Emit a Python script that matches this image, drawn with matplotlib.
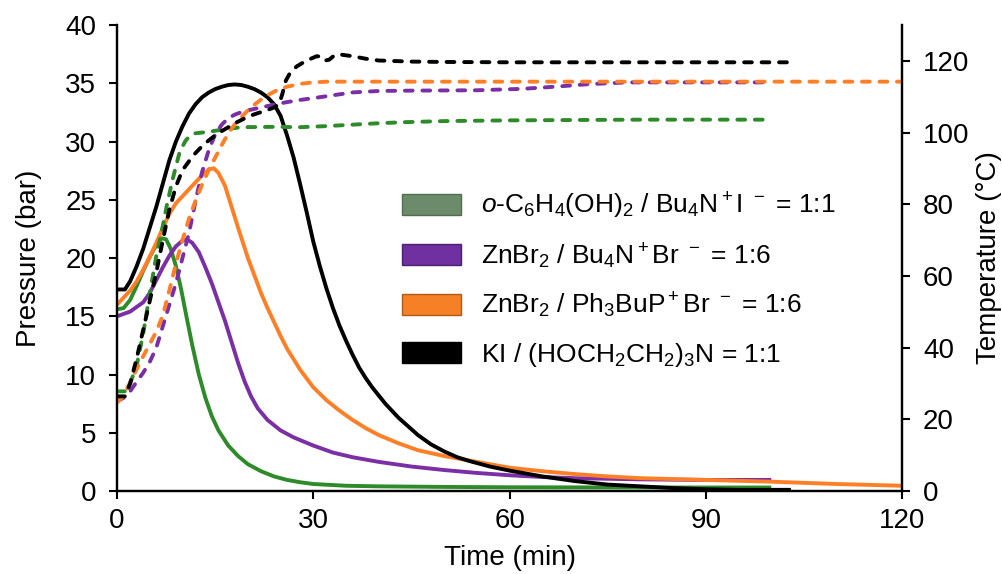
import matplotlib
matplotlib.use("Agg")
import matplotlib.pyplot as plt
from matplotlib.patches import Patch

plt.rcParams['font.family'] = ['Liberation Sans', 'DejaVu Sans']
plt.rcParams['mathtext.fontset'] = 'custom'
plt.rcParams['mathtext.rm'] = 'Liberation Sans'
plt.rcParams['mathtext.it'] = 'Liberation Sans:italic'
plt.rcParams['mathtext.bf'] = 'Liberation Sans:bold'

# ---------------- data ----------------
# Pressure (bar), solid lines
t_p_green = [0, 1, 2, 3, 4, 5, 6, 6.8, 7.5, 8.2, 9, 9.8, 10.6, 11.5, 12.5, 13.5, 14.5, 15.5, 17, 18.5,
             20, 22, 24, 26, 28, 30, 35, 40, 50, 60, 80, 100]
p_green = [15.6, 15.7, 16.4, 17.6, 18.9, 20.1, 21.1, 21.7, 21.6, 20.8, 19.3, 17.3, 15.0, 12.5, 10.0, 8.0,
           6.4, 5.2, 3.9, 3.0, 2.3, 1.7, 1.25, 0.95, 0.75, 0.6, 0.45, 0.4, 0.35, 0.32, 0.3, 0.3]

t_p_purple = [0, 1, 2, 3, 4, 5, 6, 7, 8, 9, 10, 10.7, 11.5, 12.5, 13.5, 14.5, 15.5, 16.5, 17.5, 18.5,
              19.5, 20.5, 21.5, 23, 25, 27, 30, 33, 36, 40, 45, 50, 55, 60, 65, 70, 80, 90, 100]
p_purple = [15.0, 15.2, 15.4, 15.8, 16.2, 17.0, 18.1, 19.2, 20.2, 21.0, 21.5, 21.6, 21.3, 20.5, 19.2,
            17.8, 16.2, 14.6, 12.8, 11.0, 9.4, 8.1, 7.1, 6.1, 5.2, 4.6, 3.9, 3.3, 2.9, 2.5, 2.1, 1.8,
            1.55, 1.35, 1.2, 1.1, 1.0, 0.95, 0.95]

t_p_orange = [0, 1, 2, 3, 4, 5, 6, 7, 8, 9, 10, 11, 12, 13, 14, 14.8, 15.5, 16.5, 17.5, 18.5, 20, 21,
              22, 23, 24, 25, 26, 28, 30, 32, 34, 36, 38, 40, 43, 46, 50, 55, 60, 65, 70, 75, 80, 90,
              100, 110, 120]
p_orange = [16.0, 16.6, 17.2, 18.0, 19.0, 20.1, 21.3, 22.6, 23.8, 24.7, 25.3, 25.9, 26.5, 27.1, 27.6,
            27.7, 27.3, 26.2, 24.4, 22.6, 20.0, 18.5, 17.0, 15.7, 14.5, 13.3, 12.2, 10.4, 8.9, 7.8,
            6.9, 6.1, 5.4, 4.8, 4.1, 3.5, 3.0, 2.5, 2.0, 1.7, 1.45, 1.25, 1.1, 0.95, 0.8, 0.6, 0.45]

t_p_black = [0, 1.2, 2, 3, 4, 5, 6, 7, 8, 9, 10, 11, 12, 13, 14, 15, 16, 17, 18, 19, 20, 21, 22, 23,
             24, 25, 26, 27, 28, 29, 30, 31, 32, 33, 34, 35, 36, 37, 38, 39, 40, 41, 42, 43, 44, 46,
             48, 50, 52, 54, 57, 60, 65, 70, 75, 80, 85, 90, 95, 103]
p_black = [17.3, 17.3, 18.0, 19.3, 20.8, 22.6, 24.4, 26.4, 28.4, 30.0, 31.3, 32.4, 33.2, 33.8, 34.2,
           34.5, 34.7, 34.85, 34.9, 34.85, 34.7, 34.5, 34.2, 33.8, 33.2, 32.2, 30.5, 28.6, 26.3, 23.9,
           21.4, 19.3, 17.4, 15.7, 14.2, 12.9, 11.7, 10.6, 9.7, 8.9, 8.2, 7.5, 6.9, 6.3, 5.8, 4.8,
           4.0, 3.4, 2.9, 2.55, 2.1, 1.75, 1.25, 0.85, 0.55, 0.4, 0.25, 0.15, 0.1, 0.1]

# Temperature (°C), dashed lines
t_t_green = [0, 1.3, 2, 3, 4, 5, 6, 7, 7.6, 8.5, 9.6, 10.5, 11.2, 12, 13, 14, 16, 19, 24, 28, 32, 36,
             40, 44, 50, 60, 70, 80, 100]
temp_green = [27.8, 27.8, 30, 35, 44, 55, 65.6, 74, 79.6, 87, 94.8, 97.8, 99.2, 99.8, 100, 100.2,
              100.8, 101.5, 101.6, 101.5, 101.8, 102.2, 102.6, 102.9, 103.2, 103.4, 103.5, 103.6, 103.6]

t_t_purple = [0, 1, 2, 3, 4, 5, 6, 7, 8, 9, 10, 11, 12, 13, 14, 15, 16, 17, 18, 19, 20, 22, 24, 26, 28,
              30, 33, 36, 40, 45, 55, 62, 67, 72, 78, 100]
temp_purple = [25, 26, 27.8, 30.5, 33, 36, 40, 46, 52, 58, 65, 72, 81, 89, 95, 99.5, 102.2, 104, 105,
               105.7, 106.2, 107, 107.8, 108.5, 109.1, 109.6, 110.4, 111.2, 111.6, 111.7, 111.8,
               112.2, 112.8, 113.5, 114.0, 114.0]

t_t_orange = [0, 1, 2, 3, 4, 5, 6, 7, 8, 9, 10, 11, 12, 13, 14, 15, 16, 17, 18, 19, 20, 21, 22, 23,
              24, 25, 26, 28, 30, 32, 40, 120]
temp_orange = [24.7, 26.5, 30.3, 34, 37.6, 41, 44.5, 49, 56, 63.5, 70, 76, 81, 85.5, 89.5, 93, 96.5,
               99.8, 102.3, 104.3, 106.2, 107.8, 109.2, 110.4, 111.4, 112.2, 112.8, 113.6, 114.0,
               114.2, 114.2, 114.2]

t_t_black = [0, 1.2, 2, 3, 4, 5, 6, 7, 8, 9, 10, 11, 12, 13, 14, 15, 16, 17, 18, 19, 20, 21, 22, 23,
             24, 24.8, 25.3, 25.8, 26.5, 27.5, 28.5, 29.5, 30.5, 31.2, 31.8, 32.4, 33.2, 34, 36, 38,
             40, 45, 50, 60, 103]
temp_black = [26.4, 26.4, 30, 37, 45, 53, 61, 70, 78.5, 85, 89.5, 92.0, 94.3, 96.2, 97.8, 99.2, 100.4,
              101.5, 102.6, 103.5, 104.4, 105.1, 105.7, 106.3, 107.0, 108, 111, 114.5, 116.8, 118.5,
              119.6, 120.5, 121.3, 121.2, 120.1, 120.3, 121.5, 121.8, 121.3, 120.6, 120.1, 119.8,
              119.7, 119.6, 119.6]

labels = [r"$o$-C$_6$H$_4$(OH)$_2$ / Bu$_4$N$^+$I $^-$ = 1:1",
          r"ZnBr$_2$ / Bu$_4$N$^+$Br $^-$ = 1:6",
          r"ZnBr$_2$ / Ph$_3$BuP$^+$Br $^-$ = 1:6",
          r"KI / (HOCH$_2$CH$_2$)$_3$N = 1:1"]

x_ticks = [0, 30, 60, 90, 120]
p_ticks = [0, 5, 10, 15, 20, 25, 30, 35, 40]
temp_ticks = [0, 20, 40, 60, 80, 100, 120]

# ---------------- style ----------------
c_green = '#2E8B2A'
c_purple = '#7B2FA6'
c_orange = '#FF7F27'
c_black = '#000000'
patch_faces = ['#6B8B6B', '#7030A0', '#F58025', '#000000']
patch_edges = ['#4E6E4E', '#4A1F6E', '#B05A18', '#000000']

lw = 2.8
dash = (0, (2.0, 2.5))

fig = plt.figure(figsize=(10.03, 5.74), dpi=100)
ax = fig.add_axes([0.1167, 0.1446, 0.7827, 0.8118])
ax2 = ax.twinx()

for tt, pp, c in [(t_p_green, p_green, c_green), (t_p_purple, p_purple, c_purple),
                  (t_p_orange, p_orange, c_orange), (t_p_black, p_black, c_black)]:
    ax.plot(tt, pp, color=c, lw=lw, solid_joinstyle='round', solid_capstyle='butt')

for tt, pp, c in [(t_t_green, temp_green, c_green), (t_t_purple, temp_purple, c_purple),
                  (t_t_orange, temp_orange, c_orange), (t_t_black, temp_black, c_black)]:
    ax2.plot(tt, pp, color=c, lw=lw, ls=dash, dash_capstyle='round', dash_joinstyle='round')

ax.set_xlim(0, 120)
ax.set_ylim(0, 40)
ax2.set_ylim(0, 130)
ax.set_xticks(x_ticks)
ax.set_yticks(p_ticks)
ax2.set_yticks(temp_ticks)

for a in (ax, ax2):
    a.spines['top'].set_visible(False)
    for s in ('left', 'right', 'bottom'):
        a.spines[s].set_linewidth(1.6)
    a.tick_params(axis='y', direction='out', length=6, width=1.5, labelsize=20, pad=9)
ax.tick_params(axis='x', direction='out', length=6, width=1.5, labelsize=20, pad=6)

ax.set_xlabel("Time (min)", fontsize=20, labelpad=8)
ax.set_ylabel("Pressure (bar)", fontsize=20, labelpad=17)
ax2.set_ylabel("Temperature (°C)", fontsize=20, labelpad=5)

handles = [Patch(facecolor=f, edgecolor=e, linewidth=1.0) for f, e in zip(patch_faces, patch_edges)]
leg = ax2.legend(handles, labels, loc='upper left', bbox_to_anchor=(0.363, 0.645),
                 frameon=False, fontsize=19, handlelength=2.25, handleheight=0.85,
                 handletextpad=0.75, labelspacing=0.77, borderaxespad=0, borderpad=0)

fig.savefig("out.png", dpi=100)
